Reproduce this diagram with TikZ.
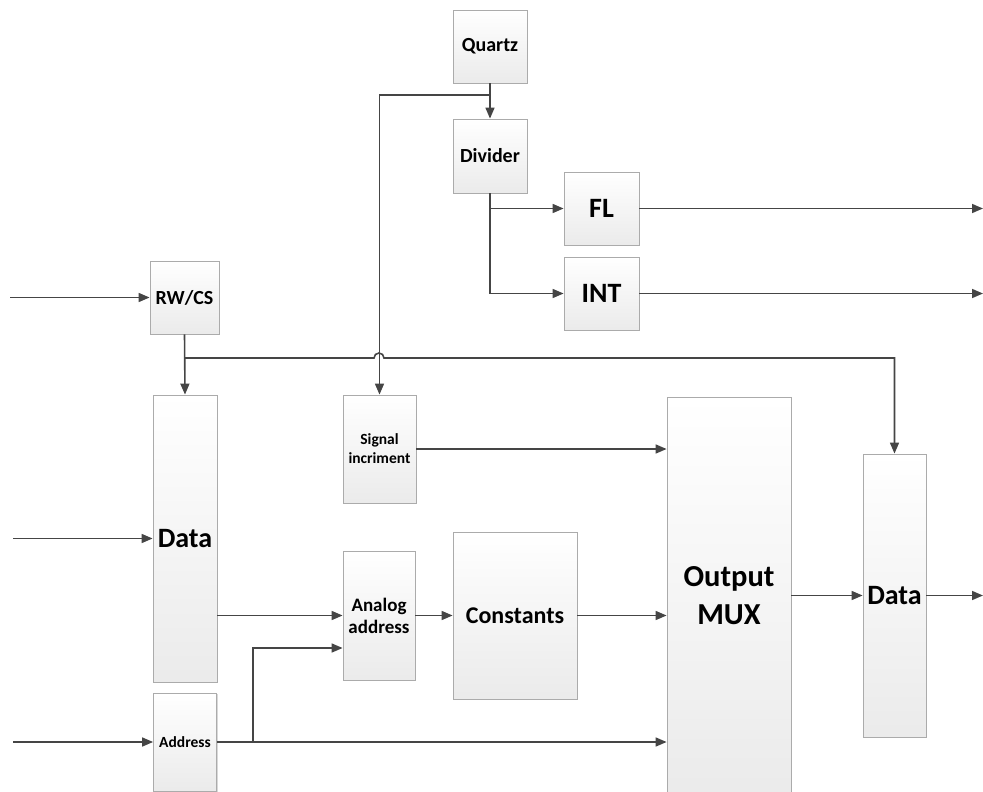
\documentclass[tikz,border=0pt]{standalone}
\usepackage{fontspec}
\setmainfont{Carlito}
\usetikzlibrary{arrows.meta,shadows,calc}
\definecolor{ln}{HTML}{454545}
\definecolor{bd}{HTML}{ABABAB}
\begin{document}
\begin{tikzpicture}[x=1pt,y=-1pt,
  blk/.style={draw=bd, line width=0.8pt, top color=white, bottom color=black!8,
    inner sep=0pt, align=center,
    drop shadow={shadow xshift=1.3pt,shadow yshift=-1.3pt,fill=black!30,opacity=.5}},
  wire/.style={draw=ln, line width=1.6pt},
  arr/.style={wire, -{Triangle[length=11pt,width=9pt]}},
  fA/.style={font=\bfseries\fontsize{20}{23}\selectfont},
  fB/.style={font=\bfseries\fontsize{15.5}{19}\selectfont},
  fC/.style={font=\bfseries\fontsize{28}{32}\selectfont},
]
\useasboundingbox (0,0) rectangle (983,792);

% blocks
\node[blk,fA,minimum width=74pt,minimum height=73pt] (quartz) at (490,46.5) {Quartz};
\node[blk,fA,minimum width=74pt,minimum height=74pt] (divider) at (490,156) {Divider};
\node[blk,fC,minimum width=75pt,minimum height=73pt] (fl) at (601.5,208.5) {FL};
\node[blk,fC,minimum width=75pt,minimum height=73pt] (int) at (601.5,293.5) {INT};
\node[blk,fA,minimum width=69pt,minimum height=73pt] (rw) at (184.5,297.5) {RW/CS};
\node[blk,fC,minimum width=64pt,minimum height=287pt] (data1) at (185,538.5) {Data};
\node[blk,fB,minimum width=63pt,minimum height=98pt] (addr) at (185,742) {Address};
\node[blk,fB,minimum width=73pt,minimum height=108pt] (signal) at (379.5,449) {Signal\\incriment};
\node[blk,font=\bfseries\fontsize{19}{22}\selectfont,minimum width=72pt,minimum height=129pt] (analog) at (379,615.5) {Analog\\address};
\node[blk,font=\bfseries\fontsize{24}{28}\selectfont,minimum width=124pt,minimum height=167pt] (const) at (515,615.5) {Constants};
\node[blk,font=\bfseries\fontsize{30.5}{38}\selectfont,minimum width=124pt,minimum height=398pt] (mux) at (729,596) {Output\\MUX};
\node[blk,fC,minimum width=63pt,minimum height=283pt] (data2) at (894.5,595.5) {Data};

% helper coordinates
\coordinate (qb) at (490,95);
\coordinate (bus) at (185,358);
\coordinate (abr) at (253,742);
\coordinate (rwi) at (10,297.5);
\coordinate (d1i) at (13,538.5);
\coordinate (adi) at (13,742);
\coordinate (flo) at (983,208.5);
\coordinate (into) at (983,293.5);
\coordinate (d2o) at (983,595.5);

% clock part
\draw[arr] (quartz.south) -- (divider.north);
\draw[arr] (qb) -| (signal.north);
\draw[arr] (divider.south) |- (fl.west);
\draw[arr] (divider.south) |- (int.west);
\draw[arr] (fl.east) -- (flo);
\draw[arr] (int.east) -- (into);

% control
\draw[arr] (rwi) -- (rw.west);
\draw[arr] (rw.south) -- (data1.north);
\draw[arr] (bus) -- (374,358) arc[start angle=180,end angle=360,radius=5] -- (data2.north |- bus) -- (data2.north);

% data path
\draw[arr] (d1i) -- (data1.west);
\draw[arr] (adi) -- (addr.west);
\draw[arr] (data1.east |- analog.west) -- (analog.west);
\draw[arr] (addr.east) -- (mux.west |- addr.east);
\draw[arr] (abr) |- ($(analog.west)+(0,32.5)$);
\draw[arr] (signal.east) -- (mux.west |- signal.east);
\draw[arr] (analog.east) -- (const.west);
\draw[arr] (const.east) -- (mux.west |- const.east);
\draw[arr] (mux.east |- data2.west) -- (data2.west);
\draw[arr] (data2.east) -- (d2o);
\end{tikzpicture}
\end{document}
